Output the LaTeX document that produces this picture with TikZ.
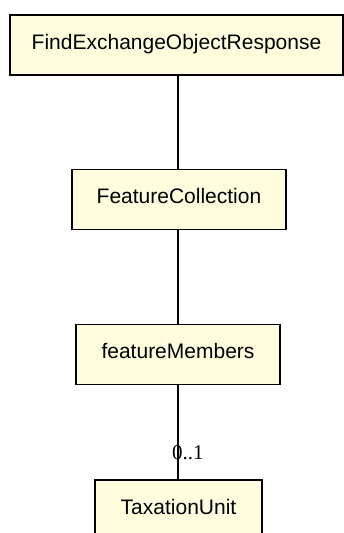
\documentclass[tikz,border=0pt]{standalone}
\usepackage{fontspec}
\setmainfont{Liberation Sans}
\newfontfamily\multfont{Liberation Serif}
\usepackage{tikz}
\usetikzlibrary{positioning,calc}

\begin{document}
\begin{tikzpicture}[x = 1pt, y = -1pt,
  cls/.style = {draw = black, line width = 1.3pt, fill = yellow!13,
    font = \fontsize{21}{25}\selectfont, text height = 15pt, text depth = 7pt,
    inner sep = 0pt, minimum height = 60pt},
  mult/.style = {font = \multfont\fontsize{21}{25}\selectfont, inner sep = 0pt}]
\useasboundingbox (0, 0) rectangle (344, 533);

\node[cls, minimum width = 333pt] (resp) at (176.5, 45) {FindExchangeObjectResponse};
\node[cls, minimum width = 214pt] (coll) at (179, 199.5) {FeatureCollection};
\node[cls, minimum width = 204pt] (memb) at (178, 354.5) {featureMembers};
\node[cls, minimum width = 167pt] (unit) at (178.5, 510) {TaxationUnit};

\draw[line width = 1.3pt] (resp.south -| memb) -- (coll.north -| memb);
\draw[line width = 1.3pt] (coll.south -| memb) -- (memb);
\draw[line width = 1.3pt] (memb) -- (unit.north -| memb);

\node[mult, anchor = base west] (card) at (172, 459) {0..1};

\end{tikzpicture}
\end{document}
